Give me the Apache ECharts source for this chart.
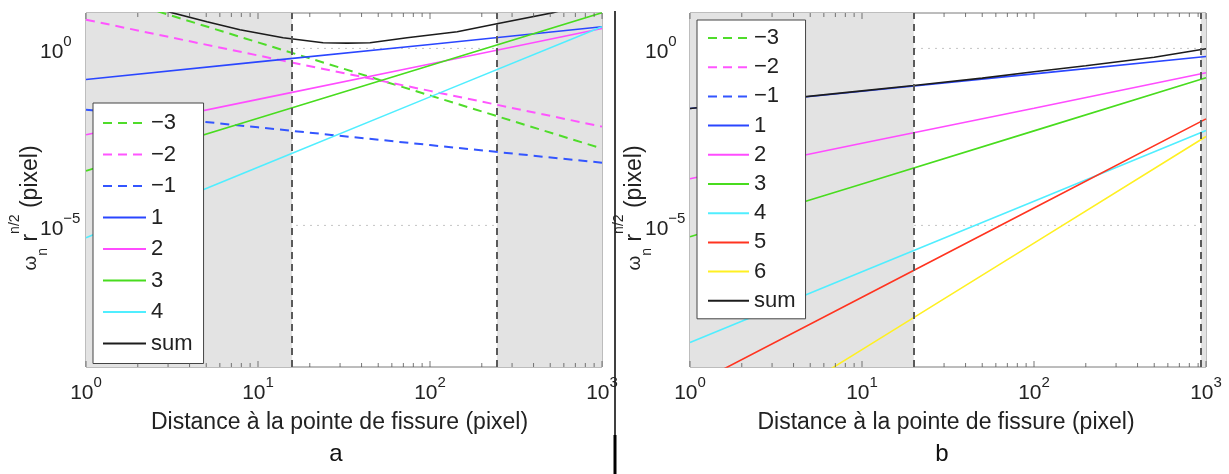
<!DOCTYPE html>
<html><head><meta charset="utf-8">
<script src="https://cdn.jsdelivr.net/npm/echarts@6/dist/echarts.min.js"></script>
<style>html,body{margin:0;padding:0;background:#fff}#c{width:1229px;height:474px}</style>
</head><body><div id="c"></div>
<script>
// ---------- axes / ticks ----------
const X_TICKS = [1, 10, 100, 1000];
const MINOR_X = [2,3,4,5,6,7,8,9,20,30,40,50,60,70,80,90,200,300,400,500,600,700,800,900];
const Y_RANGE = [1e-9, 10];
const Y_LABELED = [1, 1e-5];
const X_LINE = [1, 10, 100, 1000];

// ---------- panel a ----------
const A_M3 = [46.8, 1.48, 0.0468, 0.00148];
const A_M2 = [6.46, 0.631, 0.0631, 0.00617];
const A_M1 = [0.0186, 0.00589, 0.00186, 0.000589];
const A_P1 = [0.132, 0.417, 1.29, 4.07];
const A_P2 = [0.00363, 0.0363, 0.363, 3.63];
const A_P3 = [0.000347, 0.0107, 0.331, 10.2];
const A_P4 = [4.47e-6, 4.37e-4, 0.0427, 4.07];
const A_SUM_X = [1, 2, 3.16, 5.05, 7.85, 14, 23.9, 33, 44.8, 73.5, 144, 245, 519, 1000];
const A_SUM = [52.5, 19.1, 10.2, 5.68, 3.37, 2.00, 1.45, 1.41, 1.45, 2.00, 2.96, 4.99, 10.2, 24.0];
const A_SHADE = [[1, 15.8], [245, 1000]];
const A_BOUNDS = [15.8, 245];

// ---------- panel b ----------
const B_P1 = [0.0200, 0.0617, 0.191, 0.589];
const B_P2 = [2.09e-4, 2.09e-3, 0.0204, 0.204];
const B_P3 = [4.79e-6, 1.48e-4, 4.68e-3, 0.148];
const B_P4 = [4.90e-9, 4.90e-7, 4.79e-5, 4.79e-3];
const B_P5 = [2.82e-10, 9.33e-8, 3.09e-5, 0.0102];
const B_P6 = [3.09e-12, 3.09e-9, 3.16e-6, 3.24e-3];
const B_SUM_X = [1, 10, 20, 50, 100, 200, 500, 1000];
const B_SUM = [0.0200, 0.0631, 0.0891, 0.145, 0.219, 0.324, 0.562, 0.977];
const B_SHADE = [[1, 20], [935, 1000]];
const B_BOUNDS = [20, 935];

const LEG = ['−3','−2','−1','1','2','3','4','5','6','sum'];
const COL = {'−3':'#4fdc2a','−2':'#ff55ff','−1':'#3355ff','1':'#2a46ff','2':'#ff4cff','3':'#48dc1e','4':'#50eeff','5':'#ff3420','6':'#fff022','sum':'#1c1c1c'};
const FONT = 'Liberation Sans, Arial, Helvetica, sans-serif';

const chart = echarts.init(document.getElementById('c'), null, {renderer:'canvas'});

function sup(e){ return e < 0 ? '−' + (-e) : String(e); }
function xFmt(v){ const e = Math.round(Math.log10(v)); return '{b|10}{s|' + sup(e) + '}'; }
function yFmt(v){
  const e = Math.round(Math.log10(v));
  const ok = Y_LABELED.some(t => Math.round(Math.log10(t)) === e);
  return ok ? '{b|10}{s|' + sup(e) + '}' : '';
}
const tickRich = {
  b: {fontSize: 21, fontFamily: FONT, color: '#222', verticalAlign: 'bottom'},
  s: {fontSize: 15, fontFamily: FONT, color: '#222', verticalAlign: 'top', lineHeight: 29}
};

function line(g, key, xs, ys, dashed){
  return {
    type: 'line', name: g + '|' + key, xAxisIndex: g === 'a' ? 0 : 1, yAxisIndex: g === 'a' ? 0 : 1,
    data: xs.map((x, i) => [x, ys[i]]), symbol: 'none', showSymbol: false, z: 3, clip: true,
    lineStyle: {color: COL[key], width: dashed ? 2 : 1.6, type: dashed ? [9, 6] : 'solid'},
    itemStyle: {color: COL[key]}, emphasis: {disabled: true}, silent: true
  };
}
function empty(g, key){ return Object.assign(line(g, key, [], [], true), {data: []}); }

function shade(idx, areas, bounds){
  return {
    type: 'line', name: 'shade' + idx, xAxisIndex: idx, yAxisIndex: idx, data: [], silent: true,
    markArea: {silent: true, z: 1, itemStyle: {color: '#e3e3e3'},
      data: areas.map(r => [{xAxis: r[0]}, {xAxis: r[1]}])},
    markLine: {silent: true, z: 5, symbol: ['none','none'], label: {show: false},
      lineStyle: {color: '#5a5a5a', type: [7, 5], width: 2},
      emphasis: {disabled: true},
      data: bounds.map(x => ({xAxis: x}))}
  };
}
function gridLines(idx){
  return Y_LABELED.map(v => ({
    type: 'line', xAxisIndex: idx, yAxisIndex: idx, z: 0, silent: true, symbol: 'none',
    data: [[X_TICKS[0], v], [X_TICKS[X_TICKS.length - 1], v]],
    lineStyle: {color: '#c4c4c4', type: [2, 5], width: 1}
  }));
}
function ticks(idx){
  const d = [];
  const add = (x, len) => {
    d.push({value: [x, Y_RANGE[0]], symbolSize: [1, len], symbolOffset: [0, -len / 2]});
    d.push({value: [x, Y_RANGE[1]], symbolSize: [1, len], symbolOffset: [0, len / 2]});
  };
  X_TICKS.forEach(x => add(x, 6));
  MINOR_X.forEach(x => add(x, 4));
  return {type: 'scatter', xAxisIndex: idx, yAxisIndex: idx, data: d, symbol: 'rect', clip: false,
    itemStyle: {color: '#555'}, silent: true, z: 4};
}

function xAxis(idx, padR){
  return {
    type: 'log', logBase: 10, gridIndex: idx, min: X_TICKS[0], max: X_TICKS[X_TICKS.length - 1], splitNumber: 3,
    axisLine: {show: false}, axisTick: {show: false}, splitLine: {show: false}, minorTick: {show: false},
    axisLabel: {formatter: xFmt, rich: tickRich, margin: 8, showMinLabel: true, showMaxLabel: true},
    name: 'Distance à la pointe de fissure (pixel)', nameLocation: 'middle', nameGap: 44, nameMoveOverlap: false,
    nameTextStyle: {fontSize: 23, fontFamily: FONT, color: '#222', padding: [0, padR, 0, 0]}
  };
}
function yAxis(idx, margin){
  return {
    type: 'log', logBase: 10, gridIndex: idx, min: Y_RANGE[0], max: Y_RANGE[1], splitNumber: 10,
    axisLine: {show: false}, axisTick: {show: false}, splitLine: {show: false}, minorTick: {show: false},
    axisLabel: {formatter: yFmt, rich: tickRich, margin: margin, align: 'left', showMinLabel: true, showMaxLabel: true},
    name: '{w|ω}{sub|n}{m| r}{sup|n/2}{m| (pixel)}', nameLocation: 'middle', nameGap: 32, nameRotate: 90,
    nameMoveOverlap: false,
    nameTextStyle: {fontSize: 23, fontFamily: FONT, color: '#222', padding: [0, 36, 0, 0],
      rich: {
        w: {fontSize: 19, fontFamily: FONT, color: '#222', verticalAlign: 'middle'},
        sub: {fontSize: 14, fontFamily: FONT, color: '#222', verticalAlign: 'bottom', padding: [0, 0, 4, 0]},
        m: {fontSize: 23, fontFamily: FONT, color: '#222', verticalAlign: 'middle'},
        sup: {fontSize: 14, fontFamily: FONT, color: '#222', verticalAlign: 'top', lineHeight: 46}
      }}
  };
}

const legendBase = {
  orient: 'vertical', align: 'left', selectedMode: false, itemHeight: 20,
  backgroundColor: '#fff', borderColor: '#444', borderWidth: 1, borderRadius: 0,
  itemStyle: {color: 'rgba(0,0,0,0)', borderWidth: 0, opacity: 0},
  formatter: n => n.split('|')[1],
  textStyle: {fontSize: 22, fontFamily: FONT, color: '#222', lineHeight: 20}
};

const series = [
  shade(0, A_SHADE, A_BOUNDS), shade(1, B_SHADE, B_BOUNDS),
  ...gridLines(0), ...gridLines(1),
  ticks(0), ticks(1),
  line('a','−3', X_LINE, A_M3, true),
  line('a','−2', X_LINE, A_M2, true),
  line('a','−1', X_LINE, A_M1, true),
  line('a','1', X_LINE, A_P1, false),
  line('a','2', X_LINE, A_P2, false),
  line('a','3', X_LINE, A_P3, false),
  line('a','4', X_LINE, A_P4, false),
  line('a','sum', A_SUM_X, A_SUM, false),
  empty('b','−3'), empty('b','−2'), empty('b','−1'),
  line('b','1', X_LINE, B_P1, false),
  line('b','2', X_LINE, B_P2, false),
  line('b','3', X_LINE, B_P3, false),
  line('b','4', X_LINE, B_P4, false),
  line('b','5', X_LINE, B_P5, false),
  line('b','6', X_LINE, B_P6, false),
  line('b','sum', B_SUM_X, B_SUM, false)
];

chart.setOption({
  animation: false,
  textStyle: {fontFamily: FONT},
  grid: [
    {left: 86, top: 13, width: 516, height: 354, show: true, borderColor: '#7a7a7a', borderWidth: 1, backgroundColor: 'transparent', outerBoundsMode: 'none', containLabel: false},
    {left: 690, top: 13, width: 516, height: 354, show: true, borderColor: '#7a7a7a', borderWidth: 1, backgroundColor: 'transparent', outerBoundsMode: 'none', containLabel: false}
  ],
  xAxis: [xAxis(0, 9), xAxis(1, 4)],
  yAxis: [yAxis(0, 46), yAxis(1, 45)],
  legend: [
    Object.assign({}, legendBase, {left: 93, top: 103, padding: [9, 11, 9, 9], itemGap: 9.5, itemWidth: 43,
      data: ['−3','−2','−1','1','2','3','4','sum'].map(k => 'a|' + k)}),
    Object.assign({}, legendBase, {left: 697, top: 20, padding: [7, 10, 7, 10], itemGap: 7.2, itemWidth: 41,
      data: LEG.map(k => 'b|' + k)})
  ],
  graphic: [
    {type: 'line', shape: {x1: 615, y1: 11, x2: 615, y2: 474}, style: {stroke: '#000', lineWidth: 1.5}},
    {type: 'line', shape: {x1: 615, y1: 435, x2: 615, y2: 474}, style: {stroke: '#000', lineWidth: 3}},
    {type: 'text', x: 336, y: 454, style: {text: 'a', fontSize: 24, fontFamily: FONT, fill: '#111', align: 'center', verticalAlign: 'middle'}},
    {type: 'text', x: 942, y: 454, style: {text: 'b', fontSize: 24, fontFamily: FONT, fill: '#111', align: 'center', verticalAlign: 'middle'}}
  ],
  series: series
});
</script></body></html>
